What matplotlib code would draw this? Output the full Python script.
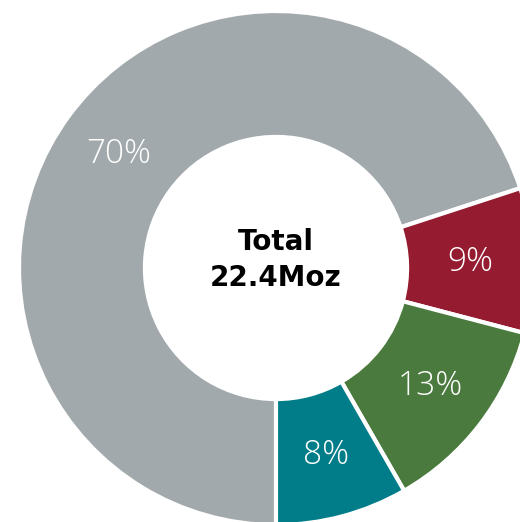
import matplotlib.pyplot as plt

# Share of total (22.4 Moz)
segments = ['Other', 'Red', 'Green', 'Teal']
shares = [69.9, 9.1, 12.6, 8.3]
pct_labels = ['70%', '9%', '13%', '8%']
colors = ['#a2a9ac', '#951b30', '#4a7a3d', '#017d89']
center_text = 'Total\n22.4Moz'

R = 257.0  # outer radius in px
cx, cy = 276.0, 268.0  # ring centre in px (from top-left)
W, H = 520, 522

fig = plt.figure(figsize=(W / 100, H / 100), dpi=100)
ax = fig.add_axes([0, 0, 1, 1])

wedges, texts, autotexts = ax.pie(
    shares,
    colors=colors,
    startangle=270,
    counterclock=False,
    radius=1.0,
    autopct='%1.0f%%',
    pctdistance=0.755,
    wedgeprops=dict(width=0.49, edgecolor='white', linewidth=3),
)

for t, lab in zip(autotexts, pct_labels):
    t.set_text(lab)
    t.set_color('white')
    t.set_fontsize(24)
    t.set_fontfamily('Open Sans')
    t.set_fontweight('light')

ax.text(0, 8 / R, center_text, ha='center', va='center', fontsize=20,
        fontweight='bold', color='black', linespacing=1.35,
        fontfamily='DejaVu Sans')

ax.set_xlim(-cx / R, (W - cx) / R)
ax.set_ylim(-(H - cy) / R, cy / R)
ax.set_aspect('auto')
ax.axis('off')

fig.savefig('out.png', dpi=100)
